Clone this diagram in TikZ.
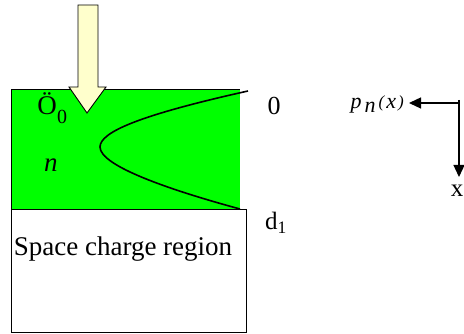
\documentclass[tikz,border=0pt]{standalone}
\usepackage{fontspec}
\setmainfont{Liberation Serif}
\usetikzlibrary{arrows.meta}
\begin{document}
\begin{tikzpicture}[x=1pt,y=-1pt,
  lbl/.style={inner sep=0pt},
  axis/.style={line width=1.3pt,-{Triangle[length=12pt,width=11pt]}}]
\useasboundingbox (0,0) rectangle (464,334);
% green layer
\fill[green!100] (11,90) rectangle (240,209);
\draw[line width=1pt] (11,209) -- (11,90) -- (240,90);
% white SCR box
\node[draw,line width=1pt,minimum width=234.5pt,minimum height=123pt,anchor=north west,inner sep=0pt] (scr) at (11,209) {};
\node[lbl,font=\fontsize{27}{30}\selectfont] (scrtxt) at (123,249) {Space charge region};
% light arrow
\draw[fill={rgb,255:red,255;green,255;blue,204},line width=0.9pt,line join=miter]
  (78,5) -- (98,5) -- (98,87) -- (106,87) -- (87,113) -- (69,87) -- (78,87) -- cycle;
% profile curve
\draw[line width=1.6pt] (248,91) .. controls (140,115) and (100,132) .. (100,147)
  .. controls (100,166) and (170,190) .. (240,209);
% labels
\node[lbl,font=\fontsize{27}{30}\selectfont] (o0) at (47,104) {Ö};
\node[lbl,font=\fontsize{20}{22}\selectfont] (o0sub) at (62,117) {0};
\node[lbl,font=\itshape\fontsize{27}{30}\selectfont] (nlbl) at (51,165) {n};
\node[lbl,font=\fontsize{26}{28}\selectfont] (zero) at (274,106) {0};
\node[lbl,font=\fontsize{25}{28}\selectfont,anchor=base west] (d1) at (265,230) {d\textsubscript{1}};
% axes
\coordinate (c) at (459,100);
\coordinate (hx) at (409,103);
\coordinate (vx) at (459,177);
\draw[axis] (c) -- (459,103) -- (hx);
\draw[axis] (459,103) -- (vx);
\node[lbl,font=\itshape\fontsize{22}{24}\selectfont,anchor=east] (pn) at (404,104) {p\kern3pt\raisebox{-4pt}{n}\kern3pt\raisebox{1pt}{\fontsize{17}{19}\selectfont(}\kern2pt x\kern2pt\raisebox{1pt}{\fontsize{17}{19}\selectfont)}};
\node[lbl,font=\fontsize{25}{28}\selectfont] (xl) at (457,191) {x};
\end{tikzpicture}
\end{document}
